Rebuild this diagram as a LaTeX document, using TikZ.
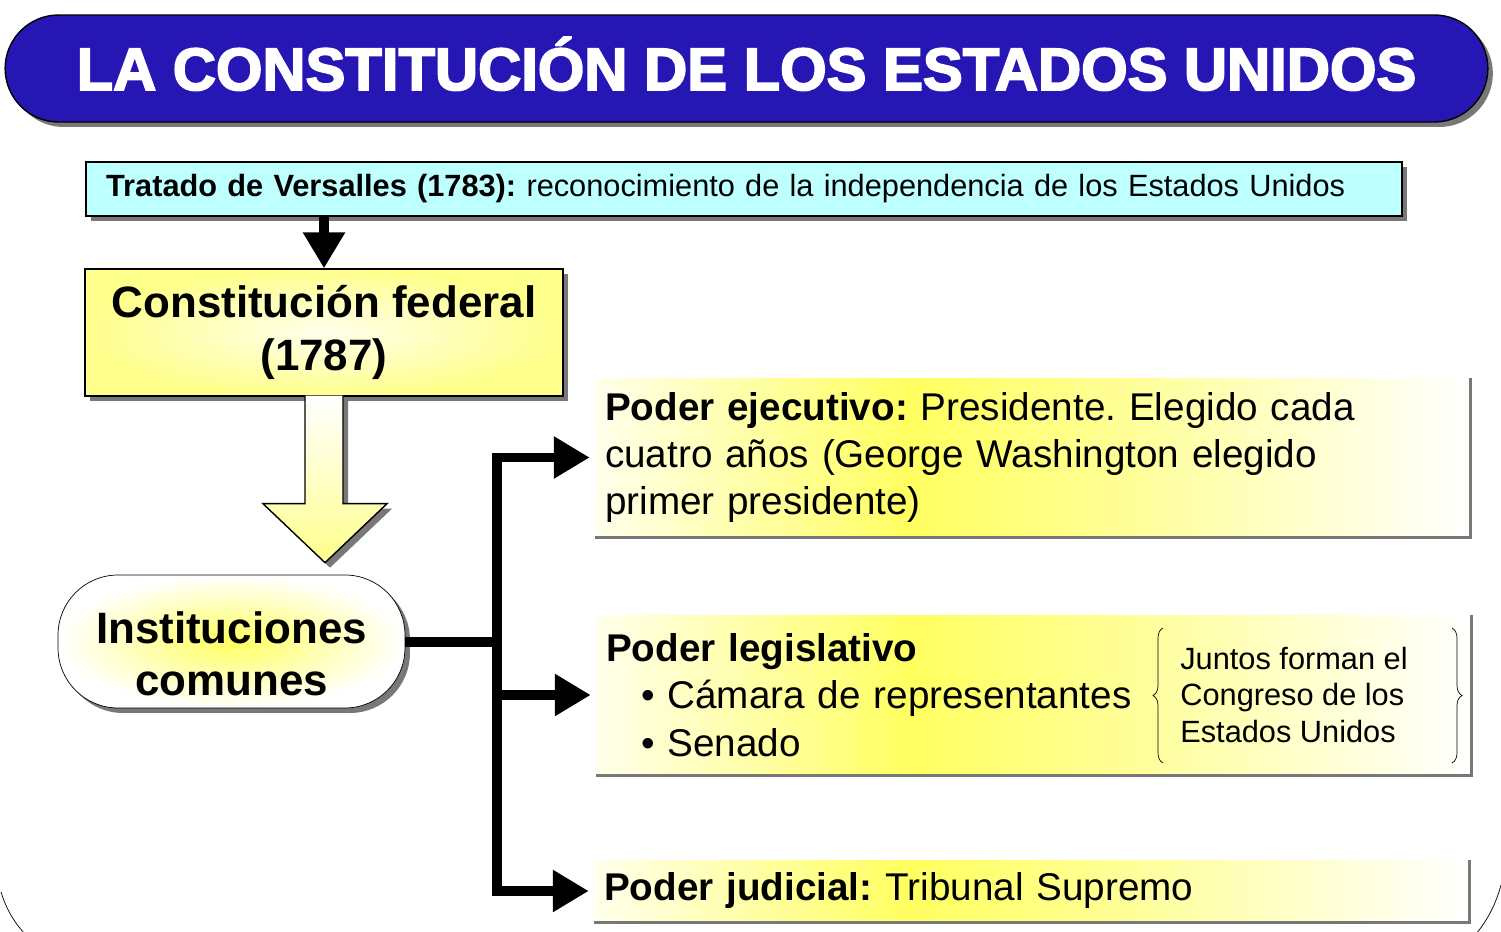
\documentclass[tikz,border=0pt]{standalone}
\usepackage{fontspec}
\setmainfont{Liberation Sans}
\newfontfamily\heavyfont[BoldFeatures={FakeBold=3}]{Liberation Sans}
\usepackage{tikz}
\usepackage{xcolor}
\usetikzlibrary{shapes.geometric, arrows.meta, positioning, calc, shadows, decorations.pathreplacing}
\frenchspacing

\definecolor{titleblue}{RGB}{38,22,180}
\definecolor{treatycyan}{RGB}{190,255,255}
\definecolor{softyellow}{RGB}{255,255,140}
\definecolor{brightyellow}{RGB}{255,255,96}
\definecolor{midyellow}{RGB}{255,255,150}
\definecolor{paleyellow}{RGB}{255,255,236}
\definecolor{shadowgray}{RGB}{120,120,120}

\pgfdeclarehorizontalshading{branchshade}{100bp}{color(0bp)=(paleyellow); color(25bp)=(paleyellow); color(43bp)=(brightyellow); color(55bp)=(midyellow); color(75bp)=(white); color(100bp)=(white)}

\tikzset{
  hardshadow/.style={drop shadow={shadow xshift=1mm, shadow yshift=-1mm, fill=shadowgray, opacity=1}},
  titlebox/.style={draw=black, thick, fill=titleblue, rounded corners=1.07cm, minimum width=29.66cm, minimum height=2.14cm, inner sep=0pt, text height=0.86cm, text depth=0cm, text=white, font=\heavyfont\bfseries\fontsize{34}{40}\selectfont},
  treatybox/.style={draw=black, thick, fill=treatycyan, text width=25.52cm, inner xsep=0.4cm, minimum height=1.08cm, align=left, font=\fontsize{17.5}{21}\selectfont},
  constbox/.style={draw=black, thick, shading=radial, inner color=paleyellow, outer color=softyellow, minimum width=9.56cm, minimum height=2.54cm, align=center, font=\bfseries\fontsize{25}{30}\selectfont},
  instbox/.style={draw=black, shading=radial, inner color=brightyellow, outer color=white, rounded corners=1.2cm, minimum width=6.94cm, minimum height=2.66cm, text height=2.16cm, text depth=0cm, align=center, font=\bfseries\fontsize{25}{29.5}\selectfont},
  branchbox/.style={shading=branchshade, text width=17.1cm, inner xsep=0.2cm, align=left, font=\fontsize{22}{27}\selectfont},
  bracetext/.style={inner sep=0pt, align=left, font=\fontsize{17.5}{21}\selectfont},
  rimline/.style={shadowgray, line width=0.06cm},
  blockarrow/.style={draw=black, thick, top color=white, bottom color=softyellow},
  wire/.style={line width=0.2cm},
  branch/.style={line width=0.2cm, -{Triangle[length=0.72cm, width=0.8cm]}},
  curly/.style={decorate, decoration={brace, amplitude=0.2cm}, thin}
}

\begin{document}
\begin{tikzpicture}[x=0.02cm, y=-0.02cm]
\useasboundingbox (0,0) rectangle (1501,932);

% Title banner
\node[titlebox, hardshadow] (title) at (746.5,68.5) {LA CONSTITUCIÓN DE LOS ESTADOS UNIDOS};

% Treaty and constitution
\node[treatybox, hardshadow] (treaty) at (744,189) {\textbf{Tratado de Versalles (1783):} reconocimiento de la independencia de los Estados Unidos};
\node[constbox, hardshadow] (const) at (324,332.5) {Constitución federal\\(1787)};
\draw[branch] (treaty.south -| const.north) -- (const.north);

% Hollow block arrow
\draw[blockarrow, hardshadow] ($(const.south)+(-19,-1)$) -- ++(0,108) -- ++(-42,0) -- ++(62,59) -- ++(62,-59) -- ++(-44,0) -- ++(0,-108);

% Common institutions
\node[instbox, hardshadow] (inst) at (231.5,641.5) {Instituciones\\comunes};

% The three powers
\node[branchbox, minimum height=3.18cm] (exec) at (1032.5,457.5) {\textbf{Poder ejecutivo:} Presidente. Elegido cada\\cuatro años (George Washington elegido\\primer presidente)};
\node[branchbox, minimum height=3.2cm] (legis) at (1033.5,695) {\textbf{Poder legislativo}\\\hspace*{0.7cm}• Cámara de representantes\\\hspace*{0.7cm}• Senado};
\node[branchbox, minimum height=1.24cm] (judic) at (1031.5,891) {\textbf{Poder judicial:} Tribunal Supremo};
\foreach \b in {exec, legis, judic}
  \draw[rimline] (\b.north east) -- (\b.south east) -- (\b.south west);

% Congress note with braces
\node[bracetext, anchor=west] (congreso) at (1180,695) {Juntos forman el\\Congreso de los\\Estados Unidos};
\draw[curly] ($(congreso.west)+(-17,68)$) -- ($(congreso.west)+(-17,-67)$);
\draw[curly] ($(congreso.west)+(272,-67)$) -- ($(congreso.west)+(272,68)$);

% Connectors
\draw[wire] (inst.east) -- ++(92,0) coordinate (fork);
\draw[wire, line cap=rect] (fork |- exec.west) -- (fork |- judic.west);
\foreach \b in {exec, legis, judic}
  \draw[branch] (fork |- \b.west) -- ([xshift=-0.1cm]\b.west);

% Frame corners
\draw (1,892) .. controls (6,908) and (13,921) .. (25,934);
\draw (1501,885) .. controls (1496,903) and (1489,918) .. (1476,934);
\end{tikzpicture}
\end{document}
